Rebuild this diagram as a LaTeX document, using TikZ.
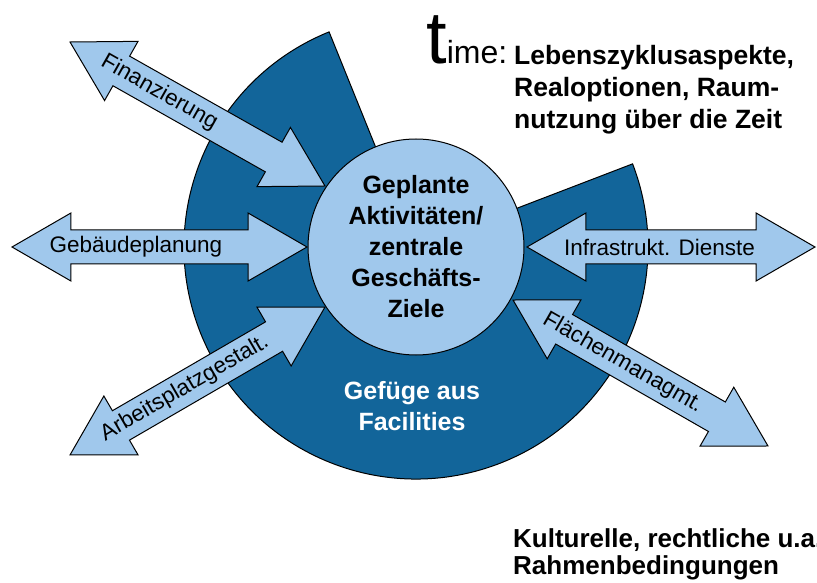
\documentclass[tikz,border=0pt]{standalone}
\usepackage{fontspec}
\setmainfont{Liberation Sans}
\usetikzlibrary{%
    shapes.arrows,%
    calc
}
\definecolor{dunkelblau}{HTML}{12659A}
\definecolor{hellblau}{HTML}{A0C8EC}

\newcommand{\doppelpfeil}[5]{%
  \path let \p1=($(#3)-(#2)$), \n1={atan2(\y1,\x1)}, \n2={veclen(\x1,\y1)} in
    node[pfeil, rotate=\n1, minimum height=\n2] (#1) at ($(#2)!0.5!(#3)$) {};
  \path (#2) -- (#3) node[pos=#4, pfeiltext] (#1-text) {#5};
}

\begin{document}
\begin{tikzpicture}[x=1pt,y=1pt,
  pfeil/.style={double arrow, draw=black, fill=hellblau, line width=1pt,
    double arrow tip angle=60, double arrow head extend=17pt,
    inner xsep=0pt, inner ysep=16.5pt},
  pfeiltext/.style={sloped, inner sep=0pt, font=\fontsize{22.5}{22.5}\selectfont},
  fett/.style={inner sep=0pt, font=\fontsize{25}{31}\selectfont\bfseries}]
\useasboundingbox (0,0) rectangle (817,582);

\coordinate (m) at (416,335);
\draw[fill=dunkelblau, line width=1pt] (m) -- ++(112:232) arc(112:381:232) -- cycle;

\coordinate (fin1) at (70,540); \coordinate (fin2) at (325,396);
\coordinate (geb1) at (12,335); \coordinate (geb2) at (307,335);
\coordinate (arb1) at (70,127); \coordinate (arb2) at (325,275);
\coordinate (inf1) at (527,335); \coordinate (inf2) at (815,335);
\coordinate (fla1) at (513,282); \coordinate (fla2) at (768,136);

\doppelpfeil{fin}{fin1}{fin2}{0.35}{Finanzierung}
\doppelpfeil{geb}{geb1}{geb2}{0.42}{Gebäudeplanung}
\doppelpfeil{arb}{arb1}{arb2}{0.45}{Arbeitsplatzgestalt.}
\doppelpfeil{inf}{inf1}{inf2}{0.46}{Infrastrukt. Dienste}
\doppelpfeil{fla}{fla1}{fla2}{0.43}{Flächenmanagmt.}

\node[circle, draw, line width=1pt, fill=hellblau, minimum size=216pt, align=center, fett] (ziele) at (m) {Geplante\\Aktivitäten/\\zentrale\\Geschäfts-\\Ziele};
\node[fett, white, align=center] (gefuege) at (412,176) {Gefüge aus\\Facilities};

\node[anchor=base west, inner sep=0pt] (time) at (426,518) {{\fontsize{74}{74}\selectfont t}{\fontsize{32}{32}\selectfont ime:}};
\node[fett, font=\fontsize{26.5}{32}\selectfont\bfseries, align=left, anchor=north west] (zeit) at (514,537) {Lebenszyklusaspekte,\\Realoptionen, Raum-\\nutzung über die Zeit};
\node[fett, font=\fontsize{26}{27}\selectfont\bfseries, align=left, anchor=north west] (rahmen) at (513,54) {Kulturelle, rechtliche u.a.\\Rahmenbedingungen};
\end{tikzpicture}
\end{document}
